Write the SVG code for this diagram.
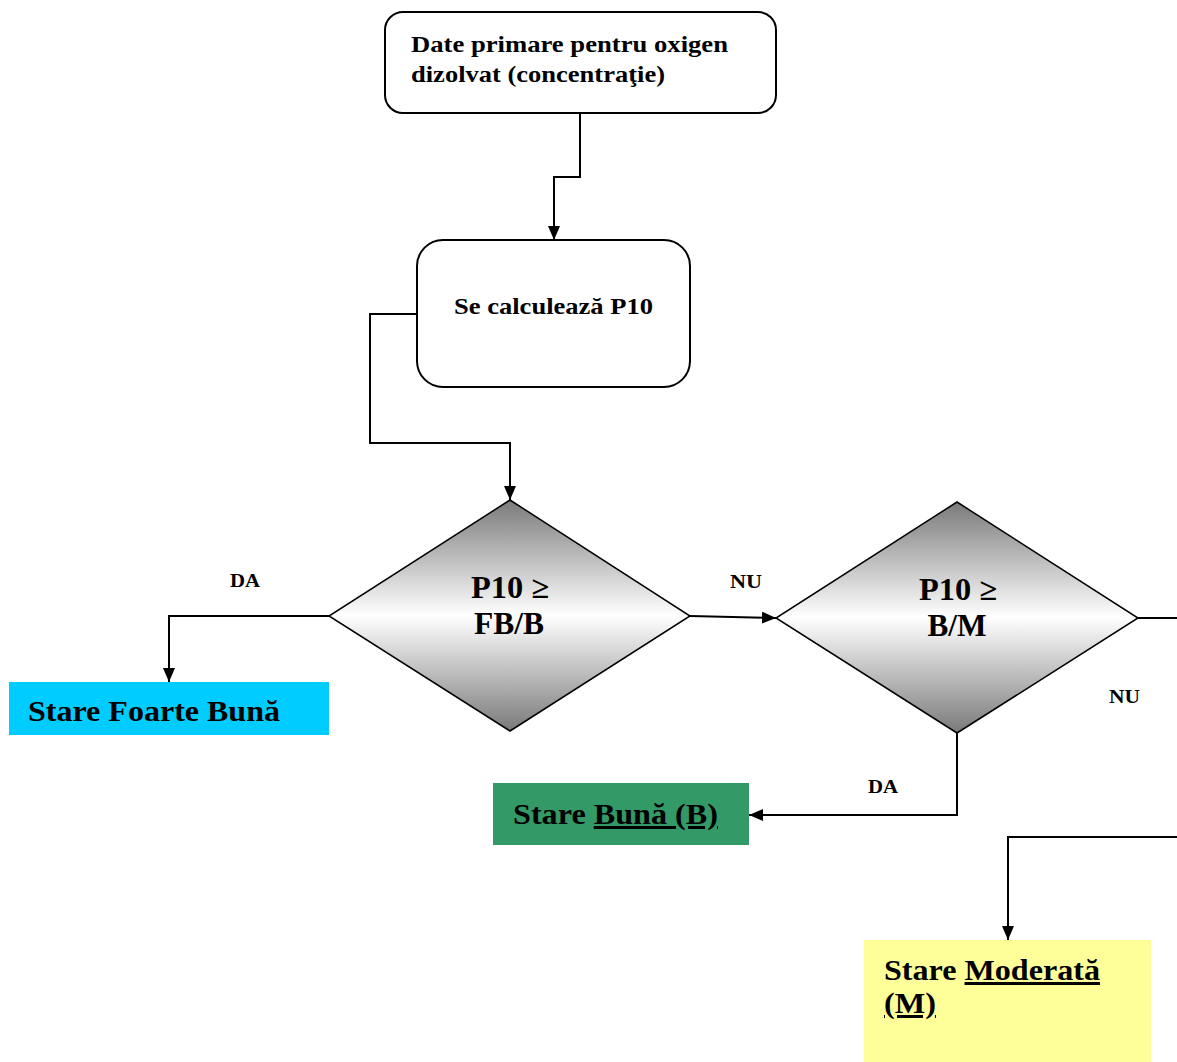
<svg xmlns="http://www.w3.org/2000/svg" width="1177" height="1062" viewBox="0 0 1177 1062">
<defs>
<style>
text{font-family:"Liberation Serif","Times New Roman",serif;font-weight:bold;fill:#000}
.box{fill:#fff;stroke:#000;stroke-width:2}
.dia{fill:url(#g);stroke:#000;stroke-width:1.5}
.c{fill:none;stroke:#000;stroke-width:2;marker-end:url(#ar)}
.cn{fill:none;stroke:#000;stroke-width:2}
.lbl{font-size:18px}
.st{font-size:30px}
.dt{font-size:31px;text-anchor:middle}
.bt{font-size:24px}
.u{text-decoration:underline}
</style>
<linearGradient id="g" x1="0" y1="0" x2="0" y2="1">
<stop offset="0" stop-color="#7a7a7a"/>
<stop offset="0.5" stop-color="#ffffff"/>
<stop offset="1" stop-color="#7a7a7a"/>
</linearGradient>
<marker id="ar" viewBox="0 0 14 12" refX="14" refY="6" markerWidth="14" markerHeight="12" markerUnits="userSpaceOnUse" orient="auto">
<path d="M0,0 L14,6 L0,12 z" fill="#000"/>
</marker>
</defs>
<g id="connectors">
<path class="c" d="M580,113 V177 H554 V240"/>
<path class="c" d="M417,314 H370 V443 H510 V500"/>
<path class="c" d="M329,616 H169 V682"/>
<path class="c" d="M690,616 L776,618"/>
<path class="cn" d="M1138,618 H1177"/>
<path class="c" d="M957,733 V815 H749"/>
<path class="c" d="M1177,837 H1008 V940"/>
<text class="lbl" x="230" y="587" textLength="30" lengthAdjust="spacingAndGlyphs">DA</text>
<text class="lbl" x="730" y="588" textLength="32" lengthAdjust="spacingAndGlyphs">NU</text>
<text class="lbl" x="868" y="793" textLength="30" lengthAdjust="spacingAndGlyphs">DA</text>
<text class="lbl" x="1109" y="703" textLength="31" lengthAdjust="spacingAndGlyphs">NU</text>
</g>
<g id="n1">
<rect class="box" x="385" y="12" width="391" height="101" rx="18"/>
<text class="bt" x="411" y="52" textLength="317" lengthAdjust="spacingAndGlyphs">Date primare pentru oxigen</text>
<text class="bt" x="411" y="82" textLength="254" lengthAdjust="spacingAndGlyphs">dizolvat (concentraţie)</text>
</g>
<g id="n2">
<rect class="box" x="417" y="240" width="273" height="147" rx="26"/>
<text class="bt" x="454" y="314" textLength="199" lengthAdjust="spacingAndGlyphs">Se calculează P10</text>
</g>
<g id="d1">
<polygon class="dia" points="510,500 690,616 510,731 329,616"/>
<text class="dt" x="510" y="598" textLength="78" lengthAdjust="spacingAndGlyphs">P10 ≥</text>
<text class="dt" x="509" y="634" textLength="70" lengthAdjust="spacingAndGlyphs">FB/B</text>
</g>
<g id="d2">
<polygon class="dia" points="957,502 1138,618 957,733 776,618"/>
<text class="dt" x="958" y="600" textLength="78" lengthAdjust="spacingAndGlyphs">P10 ≥</text>
<text class="dt" x="957" y="636" textLength="59" lengthAdjust="spacingAndGlyphs">B/M</text>
</g>
<g id="s1">
<rect x="9" y="682" width="320" height="53" fill="#00ccff"/>
<text class="st" x="28" y="721" textLength="252" lengthAdjust="spacingAndGlyphs">Stare Foarte Bună</text>
</g>
<g id="s2">
<rect x="493" y="783" width="256" height="62" fill="#339966"/>
<text class="st" x="513" y="824" textLength="205" lengthAdjust="spacingAndGlyphs">Stare <tspan class="u">Bună (B)</tspan></text>
</g>
<g id="s3">
<rect x="864" y="940" width="287" height="122" fill="#ffff99"/>
<text class="st" x="884" y="980" textLength="216" lengthAdjust="spacingAndGlyphs">Stare <tspan class="u">Moderată</tspan></text>
<text class="st" x="884" y="1013" textLength="52" lengthAdjust="spacingAndGlyphs"><tspan class="u">(M)</tspan></text>
</g>
</svg>
